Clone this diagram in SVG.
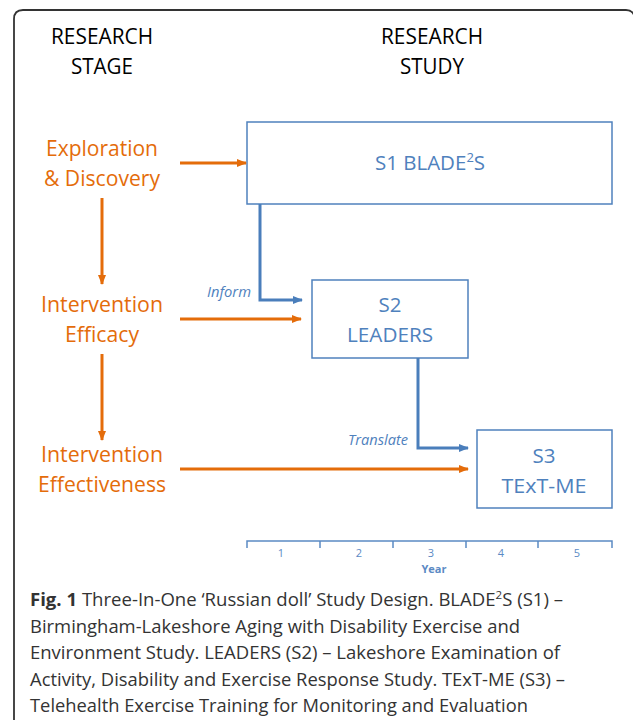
<svg xmlns="http://www.w3.org/2000/svg" width="633" height="720" viewBox="0 0 633 720">
  <style>
    text { font-family: "Open Sans", "Noto Sans", "Liberation Sans", sans-serif; }
    .head { font-size: 21px; fill: #000; text-anchor: middle; }
    .stage { font-size: 21px; fill: #E46C0A; text-anchor: middle; }
    .box { fill: #fff; stroke: #4F81BD; stroke-width: 1.5; }
    .boxtxt { font-size: 20.5px; fill: #4F81BD; text-anchor: middle; }
    .flow { fill: none; stroke: #E46C0A; stroke-width: 3; }
    .link { fill: none; stroke: #4A7EBB; stroke-width: 3; }
    .linklbl { font-size: 14px; font-style: italic; fill: #4F81BD; text-anchor: end; }
    .axis { fill: none; stroke: #5B8AC4; stroke-width: 1.5; }
    .tick { font-size: 11px; fill: #5B8AC4; text-anchor: middle; }
    .cap { font-size: 18.5px; fill: #333; }
  </style>
  <defs>
    <marker id="arrOrange" markerWidth="10" markerHeight="8" refX="9" refY="4" orient="auto" markerUnits="userSpaceOnUse">
      <path d="M0,0 L10,4 L0,8 z" fill="#E46C0A"/>
    </marker>
    <marker id="arrBlue" markerWidth="10" markerHeight="8" refX="9" refY="4" orient="auto" markerUnits="userSpaceOnUse">
      <path d="M0,0 L10,4 L0,8 z" fill="#4A7EBB"/>
    </marker>
  </defs>

  <rect width="633" height="720" fill="#fff"/>

  <!-- outer frame -->
  <path d="M14,720 V19 Q14,10 23,10 H626 Q632,10 634,15" fill="none" stroke="#333" stroke-width="1.8"/>

  <!-- column headings -->
  <g id="heading-stage">
    <text class="head" x="102" y="44" textLength="102" lengthAdjust="spacingAndGlyphs">RESEARCH</text>
    <text class="head" x="102" y="74" textLength="62" lengthAdjust="spacingAndGlyphs">STAGE</text>
  </g>
  <g id="heading-study">
    <text class="head" x="432" y="44" textLength="102" lengthAdjust="spacingAndGlyphs">RESEARCH</text>
    <text class="head" x="432" y="74" textLength="64" lengthAdjust="spacingAndGlyphs">STUDY</text>
  </g>

  <!-- research stages -->
  <g id="stage-exploration">
    <text class="stage" x="102" y="156" textLength="112" lengthAdjust="spacingAndGlyphs">Exploration</text>
    <text class="stage" x="102" y="186" textLength="116" lengthAdjust="spacingAndGlyphs">&amp; Discovery</text>
  </g>
  <g id="stage-efficacy">
    <text class="stage" x="102" y="312" textLength="122" lengthAdjust="spacingAndGlyphs">Intervention</text>
    <text class="stage" x="102" y="342" textLength="74" lengthAdjust="spacingAndGlyphs">Efficacy</text>
  </g>
  <g id="stage-effectiveness">
    <text class="stage" x="102" y="462" textLength="122" lengthAdjust="spacingAndGlyphs">Intervention</text>
    <text class="stage" x="102" y="492" textLength="128" lengthAdjust="spacingAndGlyphs">Effectiveness</text>
  </g>

  <!-- research studies -->
  <g id="study-s1">
    <rect class="box" x="247" y="122" width="365" height="82"/>
    <text class="boxtxt" x="430" y="170">S1 BLADE<tspan font-size="13" dy="-8">2</tspan><tspan dy="8">S</tspan></text>
  </g>
  <g id="study-s2">
    <rect class="box" x="312" y="280" width="156" height="78"/>
    <text class="boxtxt" x="390" y="312">S2</text>
    <text class="boxtxt" x="390" y="342" textLength="86" lengthAdjust="spacingAndGlyphs">LEADERS</text>
  </g>
  <g id="study-s3">
    <rect class="box" x="477" y="430" width="135" height="78"/>
    <text class="boxtxt" x="544" y="463">S3</text>
    <text class="boxtxt" x="544" y="493" textLength="85" lengthAdjust="spacingAndGlyphs">TExT-ME</text>
  </g>

  <!-- connectors -->
  <g id="connectors">
    <line class="flow" x1="180" y1="163" x2="246" y2="163" marker-end="url(#arrOrange)"/>
    <line class="flow" x1="180" y1="319" x2="301" y2="319" marker-end="url(#arrOrange)"/>
    <line class="flow" x1="180" y1="469" x2="468" y2="469" marker-end="url(#arrOrange)"/>
    <line class="flow" x1="102" y1="198" x2="102" y2="284" marker-end="url(#arrOrange)"/>
    <line class="flow" x1="102" y1="354" x2="102" y2="440" marker-end="url(#arrOrange)"/>
    <polyline class="link" points="260,204 260,300 302,300" marker-end="url(#arrBlue)"/>
    <polyline class="link" points="418,358 418,448 468,448" marker-end="url(#arrBlue)"/>
    <text class="linklbl" x="251" y="297" textLength="44" lengthAdjust="spacingAndGlyphs">Inform</text>
    <text class="linklbl" x="408" y="445" textLength="60" lengthAdjust="spacingAndGlyphs">Translate</text>
  </g>

  <!-- timeline -->
  <g id="timeline">
    <path class="axis" d="M247,548 V541 H612 V548 M320,541 V548 M393,541 V548 M466,541 V548 M538,541 V548"/>
    <text class="tick" x="281" y="557">1</text>
    <text class="tick" x="359" y="557">2</text>
    <text class="tick" x="431" y="557">3</text>
    <text class="tick" x="501" y="557">4</text>
    <text class="tick" x="577" y="557">5</text>
    <text class="tick" x="434" y="573" font-weight="bold">Year</text>
  </g>

  <!-- caption -->
  <g id="caption">
    <text class="cap" x="30" y="606" textLength="533" lengthAdjust="spacingAndGlyphs"><tspan font-weight="bold">Fig. 1</tspan> Three-In-One ‘Russian doll’ Study Design. BLADE<tspan font-size="11.5" dy="-7">2</tspan><tspan dy="7">S (S1) –</tspan></text>
    <text class="cap" x="30" y="633" textLength="490" lengthAdjust="spacingAndGlyphs">Birmingham-Lakeshore Aging with Disability Exercise and</text>
    <text class="cap" x="30" y="659" textLength="530" lengthAdjust="spacingAndGlyphs">Environment Study. LEADERS (S2) – Lakeshore Examination of</text>
    <text class="cap" x="30" y="686" textLength="535" lengthAdjust="spacingAndGlyphs">Activity, Disability and Exercise Response Study. TExT-ME (S3) –</text>
    <text class="cap" x="30" y="712" textLength="498" lengthAdjust="spacingAndGlyphs">Telehealth Exercise Training for Monitoring and Evaluation</text>
  </g>
</svg>
